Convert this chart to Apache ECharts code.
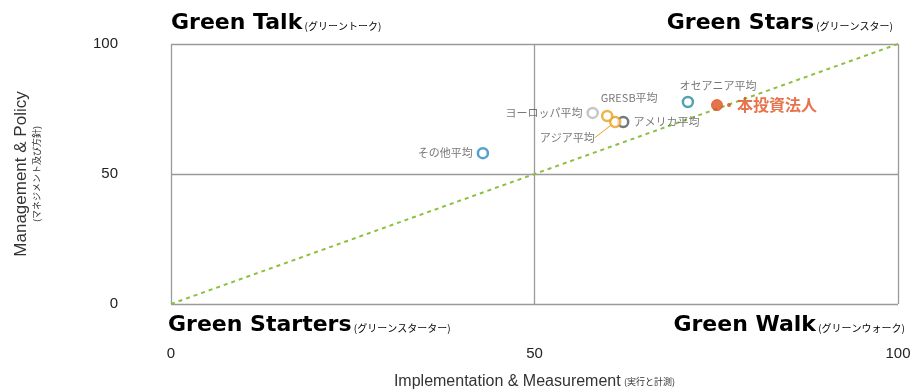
<!DOCTYPE html>
<html>
<head>
<meta charset="utf-8">
<style>
html, body { margin: 0; padding: 0; background: #fff; }
#chart { width: 919px; height: 392px; }
</style>
<script src="https://cdn.jsdelivr.net/npm/echarts@6/dist/echarts.min.js"></script>
</head>
<body>
<div id="chart"></div>
<script>
// 各ポイント
var names = ['本投資法人', 'オセアニア平均', 'アメリカ平均', 'アジア平均', 'GRESB平均', 'ヨーロッパ平均', 'その他平均'];
var implVals = [75.1, 71.1, 62.2, 61.1, 60.0, 58.0, 42.9];
var mgmtVals = [76.5, 77.7, 70.0, 70.0, 72.3, 73.5, 58.0];
var axisTicks = [0, 50, 100];
var diagonal = [[0, 0], [100, 100]];

var pointColors = ['#e0501e', '#2a8aa0', '#4a5a66', '#e8a020', '#e8a020', '#b8b8b8', '#2a8ac0'];
var labelPos = ['right', 'top', 'right', 'bottom', 'top', 'left', 'left'];
// ラベルのずらし
var labelShift = { 'オセアニア平均': [30, 0], 'GRESB平均': [22, -2], 'アジア平均': [-48, 0] };

var FONT = "'Liberation Sans', Arial, sans-serif";
var JP = "'Noto Sans CJK JP', sans-serif";

var chart = echarts.init(document.getElementById('chart'));

var points = names.map(function (n, i) {
    var item = {
        name: n,
        value: [implVals[i], mgmtVals[i]],
        itemStyle: i === 0
            ? { color: pointColors[i], borderColor: pointColors[i], borderWidth: 1 }
            : { color: '#fff', borderColor: pointColors[i], borderWidth: 2.5 },
        symbolSize: i === 0 ? 11 : 10,
        label: {
            show: true,
            position: labelPos[i],
            formatter: i === 0 ? '・{b}' : '{b}',
            color: i === 0 ? '#e0501e' : '#555',
            fontSize: i === 0 ? 16 : 11,
            fontWeight: i === 0 ? 'bold' : 'normal',
            fontFamily: JP,
            distance: i === 0 ? -2 : 4
        }
    };
    if (n === 'アジア平均') {
        item.labelLine = { show: true, lineStyle: { color: '#e8a020', width: 1 } };
    }
    return item;
});

function quad(text, sub) {
    return '{t|' + text + '}{s| ' + sub + '}';
}
function quadRich(color) {
    return {
        t: { fontSize: 22, fontWeight: 'bold', fontFamily: "'DejaVu Sans', sans-serif", color: color },
        s: { fontSize: 10, fontFamily: JP, color: color, padding: [6, 0, 0, 0] }
    };
}

var option = {
    backgroundColor: '#fff',
    animation: false,
    grid: { left: 171, right: 21, top: 44, bottom: 88, containLabel: false, outerBoundsMode: 'none' },
    xAxis: {
        type: 'value', min: 0, max: 100, interval: 50,
        axisLine: { show: false },
        axisTick: { show: false },
        splitLine: { show: true, lineStyle: { color: '#9a9a9a', width: 1.3 } },
        axisLabel: {
            margin: 42, color: '#222', fontSize: 15, fontFamily: FONT,
            formatter: function (v) { return axisTicks.indexOf(v) >= 0 ? v : ''; }
        },
        name: '{m|Implementation & Measurement} {j|(実行と計測)}',
        nameLocation: 'middle', nameGap: 70,
        nameTextStyle: {
            rich: {
                m: { fontSize: 16, fontFamily: FONT, color: '#333' },
                j: { fontSize: 9, fontFamily: JP, color: '#333' }
            }
        }
    },
    yAxis: {
        type: 'value', min: 0, max: 100, interval: 50,
        axisLine: { show: false },
        axisTick: { show: false },
        splitLine: { show: true, lineStyle: { color: '#9a9a9a', width: 1.3 } },
        axisLabel: { margin: 53, color: '#222', fontSize: 15, fontFamily: FONT },
        name: '{m|Management & Policy}\n{j|(マネジメント及び方針)}',
        nameLocation: 'middle', nameGap: 128, nameRotate: 90,
        nameTextStyle: {
            align: 'center',
            rich: {
                m: { fontSize: 17, fontFamily: FONT, color: '#333', lineHeight: 19 },
                j: { fontSize: 9, fontFamily: JP, color: '#333', lineHeight: 12 }
            }
        }
    },
    graphic: [
        { type: 'text', left: 171, top: 12, style: { text: quad('Green Talk', '(グリーントーク)'), rich: quadRich('#111') } },
        { type: 'text', right: 26, top: 12, style: { text: quad('Green Stars', '(グリーンスター)'), rich: quadRich('#2b8595') } },
        { type: 'text', left: 168, top: 314, style: { text: quad('Green Starters', '(グリーンスターター)'), rich: quadRich('#111') } },
        { type: 'text', right: 14, top: 314, style: { text: quad('Green Walk', '(グリーンウォーク)'), rich: quadRich('#111') } }
    ],
    series: [
        {
            type: 'line',
            data: diagonal,
            symbol: 'none',
            silent: true,
            lineStyle: { color: '#8cc040', width: 2, type: [4, 4] },
            z: 1
        },
        {
            type: 'scatter',
            data: points,
            labelLayout: function (params) {
                var s = labelShift[names[params.dataIndex]];
                if (!s) return {};
                return { dx: s[0], dy: s[1] };
            },
            z: 3
        }
    ]
};

chart.setOption(option);
</script>
</body>
</html>
